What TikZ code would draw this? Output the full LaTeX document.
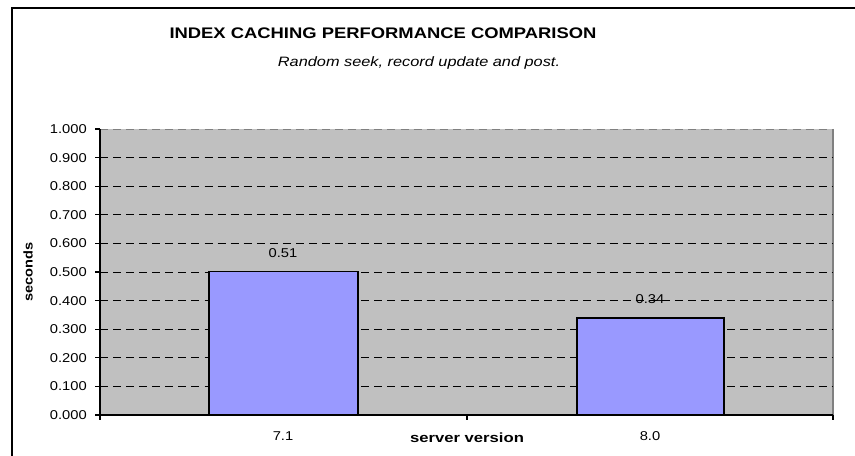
\documentclass[tikz,border=0pt]{standalone}
\usepackage{fontspec}
\setmainfont{Liberation Sans}
\newcommand{\sx}[1]{\scalebox{1.15}[1]{#1}}
\begin{document}
\begin{tikzpicture}[x=0.75pt,y=-0.75pt,
  tick/.style={font=\fontsize{9.6}{11}\selectfont,inner sep=0pt},
  grid/.style={black,line width=0.7pt,dash pattern=on 6pt off 3.8pt},
  bar/.style={draw=black,line width=0.9pt,fill=barblue}]
\definecolor{plotgray}{RGB}{192,192,192}
\definecolor{barblue}{RGB}{153,153,255}
\useasboundingbox (0,0) rectangle (855,456);
\fill[white] (0,0) rectangle (855,456);
% outer frame
\draw[line width=1.2pt] (12,470) -- (12,8) -- (870,8);
% plot area
\fill[plotgray] (100,129) rectangle (833,415);
\draw[gray,line width=0.8pt] (833,129) -- (833,415);
\draw[gray,line width=0.7pt,dash pattern=on 6pt off 3.8pt] (100,129) -- (833,129);
\foreach \v in {1,...,9}{
  \draw[grid] (100,{415-28.6*\v}) -- (833,{415-28.6*\v});
}
% bars
\draw[bar] (209,415) rectangle (358,271.5);
\draw[bar] (577,415) rectangle (724,318);
% axes
\draw[black,line width=0.8pt] (100,129) -- (100,415);
\draw[black,line width=0.8pt] (100,415) -- (833,415);
\foreach \v/\t in {0/0.000,1/0.100,2/0.200,3/0.300,4/0.400,5/0.500,6/0.600,7/0.700,8/0.800,9/0.900,10/1.000}{
  \draw[black,line width=0.8pt] (95,{415-28.6*\v}) -- (100,{415-28.6*\v});
  \node[tick,anchor=east] (yl\v) at (87,{415-28.6*\v}) {\sx{\t}};
}
\foreach \x in {100,467,833}{
  \draw[black,line width=0.8pt] (\x,415) -- (\x,420);
}
% labels
\node[tick] (v1) at (283,253) {\sx{0.51}};
\node[tick] (v2) at (650,299) {\sx{0.34}};
\node[tick] (c1) at (283,436) {\sx{7.1}};
\node[tick] (c2) at (650,436) {\sx{8.0}};
\node[inner sep=0pt,font=\bfseries\fontsize{10}{12}\selectfont] (xt) at (467,438) {\scalebox{1.25}[1]{server version}};
\node[inner sep=0pt,font=\bfseries\fontsize{9.5}{11}\selectfont,rotate=90] (yt) at (28,272) {\scalebox{1.15}[1]{seconds}};
\node[inner sep=0pt,font=\bfseries\fontsize{11.5}{13}\selectfont] (title) at (383,33) {\scalebox{1.2}[1]{INDEX CACHING PERFORMANCE COMPARISON}};
\node[inner sep=0pt,font=\itshape\fontsize{10.2}{12}\selectfont] (sub) at (419,63) {\scalebox{1.2}[1]{Random seek, record update and post.}};
\end{tikzpicture}
\end{document}
